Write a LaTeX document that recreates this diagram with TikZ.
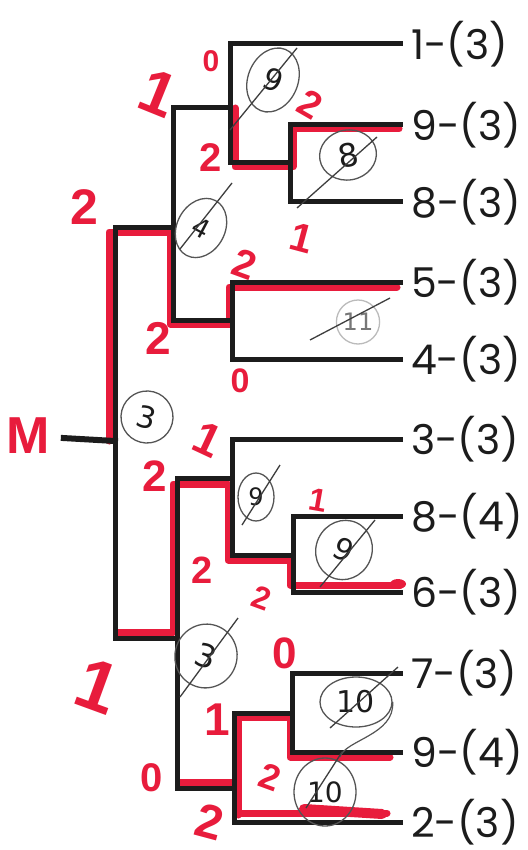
\documentclass[tikz,border=0pt]{standalone}
\usepackage{fontspec}
\setmainfont{Poppins}
\newfontfamily\handfont{Liberation Sans}
\newfontfamily\pencilfont{DejaVu Sans}
\usetikzlibrary{shapes.geometric,calc}
\definecolor{ink}{RGB}{28,28,28}
\definecolor{penred}{RGB}{232,28,60}
\definecolor{pencil}{RGB}{85,85,85}
\tikzset{
  tree/.style={draw=ink, line width=5pt, line cap=rect},
  redpen/.style={draw=penred, line width=7pt, line cap=round, line join=round},
  leaf/.style={anchor=west, inner xsep=11pt, inner ysep=0pt, text=ink, font=\fontsize{41}{41}\selectfont},
  redlab/.style={text=penred, inner sep=0pt, font=\handfont\bfseries\fontsize{#1}{#1}\selectfont},
  redlab/.default=40,
  pcirc/.style={ellipse, draw=pencil, line width=1.3pt, inner sep=0pt, text=ink, font=\pencilfont\fontsize{#1}{#1}\selectfont},
  pcirc/.default=28,
  strike/.style={draw=ink!85, line width=1.3pt}
}
\begin{document}
\begin{tikzpicture}[x=1pt,y=-1pt]
\useasboundingbox (0,0) rectangle (527,850);
\fill[white] (0,0) rectangle (527,850);
% leaves
\node[leaf] (l1) at (400,44) {1-(3)};
\node[leaf] (l2) at (400,125) {9-(3)};
\node[leaf] (l3) at (400,202) {8-(3)};
\node[leaf] (l4) at (400,282) {5-(3)};
\node[leaf] (l5) at (400,359) {4-(3)};
\node[leaf] (l6) at (400,439) {3-(3)};
\node[leaf] (l7) at (400,516) {8-(4)};
\node[leaf] (l8) at (400,592) {6-(3)};
\node[leaf] (l9) at (400,673) {7-(3)};
\node[leaf] (l10) at (400,752) {9-(4)};
\node[leaf] (l11) at (400,822) {2-(3)};
% junctions
\coordinate (B) at (290,163);
\coordinate (A) at (230,108);
\coordinate (D) at (232,320);
\coordinate (C) at (173,227);
\coordinate (R) at (115,441);
\coordinate (F) at (293,555);
\coordinate (E) at (232,478);
\coordinate (H) at (292,713);
\coordinate (G) at (234,788);
\coordinate (P) at (177,638);
\node[redlab=52] (M) at (28,436) {M};
% red highlight paths
\draw[redpen] ($(R)+(-6,0)$) |- ($(C)+(-3,5)$) |- ($(D)+(-3,4)$) |- ($(l4.west)+(-3,5)$);
\draw[redpen] ($(A)+(5,0)$) |- ($(B)+(3,4)$) |- ($(l2.west)+(-1,4)$);
\draw[redpen] ($(P)+(-60,-6)$) -- ($(P)+(-4,-6)$) |- ($(E)+(-4,6)$) |- ($(F)+(-3,5)$) |- ($(l8.west)+(0,-7)$);
\fill[penred] ($(l8.west)+(-2,-8)$) ellipse (8 and 5);
\draw[redpen] ($(G)+(-54,-6)$) -- ($(G)+(4,-6)$);
\draw[redpen] ($(G)+(4,27)$) |- ($(H)+(-2,4)$) |- ($(l10.west)+(-10,5)$);
\draw[redpen] ($(G)+(4,25)$) -- ($(l11.west)+(-13,-9)$);
\draw[redpen, line width=10pt] ($(G)+(70,21)$) -- ($(l11.west)+(-18,-8)$);
% black tree
\draw[tree] (l1.west) -| (A) |- (B);
\draw[tree] (l2.west) -| (B) |- (l3.west);
\draw[tree] (A) -| (C) |- (D);
\draw[tree] (l4.west) -| (D) |- (l5.west);
\draw[tree] (C) -| (R) |- (P);
\draw[tree, line width=6pt, shorten <=14pt] (M) -- (R);
\draw[tree] (E) -| (P) |- (G);
\draw[tree] (l6.west) -| (E) |- (F);
\draw[tree] (l7.west) -| (F) |- (l8.west);
\draw[tree] (H) -| (G) |- (l11.west);
\draw[tree] (l9.west) -| (H) |- (l10.west);
% red labels
\node[redlab=30] (r1) at (211,61) {0};
\node[redlab=62, rotate=-22] (r2) at (158,93) {1};
\node[redlab=50] (r3) at (84,207) {2};
\node[redlab=40] (r4) at (211,158) {2};
\node[redlab=38, rotate=-30] (r5) at (310,104) {2};
\node[redlab=40, rotate=-15] (r6) at (302,238) {1};
\node[redlab=40, rotate=-20] (r7) at (245,264) {2};
\node[redlab=46] (r8) at (158,338) {2};
\node[redlab=34] (r9) at (240,381) {0};
\node[redlab=46, rotate=-25] (r10) at (208,440) {1};
\node[redlab=44] (r11) at (155,476) {2};
\node[redlab=32, rotate=-10] (r12) at (318,500) {1};
\node[redlab=38] (r13) at (202,570) {2};
\node[redlab=32, rotate=-20] (r14) at (262,598) {2};
\node[redlab=44] (r15) at (285,653) {0};
\node[redlab=72, rotate=-20] (r16) at (98,686) {1};
\node[redlab=46] (r17) at (217,720) {1};
\node[redlab=40] (r18) at (152,778) {0};
\node[redlab=36, rotate=-20] (r19) at (270,777) {2};
\node[redlab=48, rotate=-15] (r20) at (210,822) {2};
% pencil circles
\node[pcirc=30, minimum width=50pt, minimum height=66pt, rotate=-22] (c1) at (273,80) {9};
\node[pcirc=32, minimum width=57pt, minimum height=50pt, rotate=10] (c2) at (348,155) {8};
\node[pcirc=26, minimum width=48pt, minimum height=62pt, rotate=-28] (c3) at (201,228) {4};
\node[pcirc=24, minimum width=42pt, minimum height=44pt, draw=pencil!40, text=ink!60] (c4) at (358,322) {11};
\node[pcirc=30, minimum width=52pt, minimum height=52pt, rotate=-15] (c5) at (147,417) {3};
\node[pcirc=24, minimum width=36pt, minimum height=48pt] (c6) at (256,497) {9};
\node[pcirc=30, minimum width=56pt, minimum height=60pt, rotate=-25] (c7) at (344,550) {9};
\node[pcirc=32, minimum width=62pt, minimum height=64pt, rotate=-20] (c8) at (206,656) {3};
\node[pcirc=30, minimum width=72pt, minimum height=50pt] (c9) at (356,702) {10};
\node[pcirc=28, minimum width=62pt, minimum height=68pt] (c10) at (325,792) {10};
\draw[draw=pencil, line width=1.2pt] (c9.east) .. controls (395,735) and (345,740) .. (340,757);
% strike-throughs
\draw[strike] (230,130) -- (297,48);
\draw[strike] (297,208) -- (377,137);
\draw[strike] (180,249) -- (232,183);
\draw[strike] (310,340) -- (390,298);
\draw[strike] (242,525) -- (280,465);
\draw[strike] (320,587) -- (375,520);
\draw[strike] (180,697) -- (238,618);
\draw[strike] (330,728) -- (398,667);
\draw[strike] (306,808) -- (342,752);
\end{tikzpicture}
\end{document}
